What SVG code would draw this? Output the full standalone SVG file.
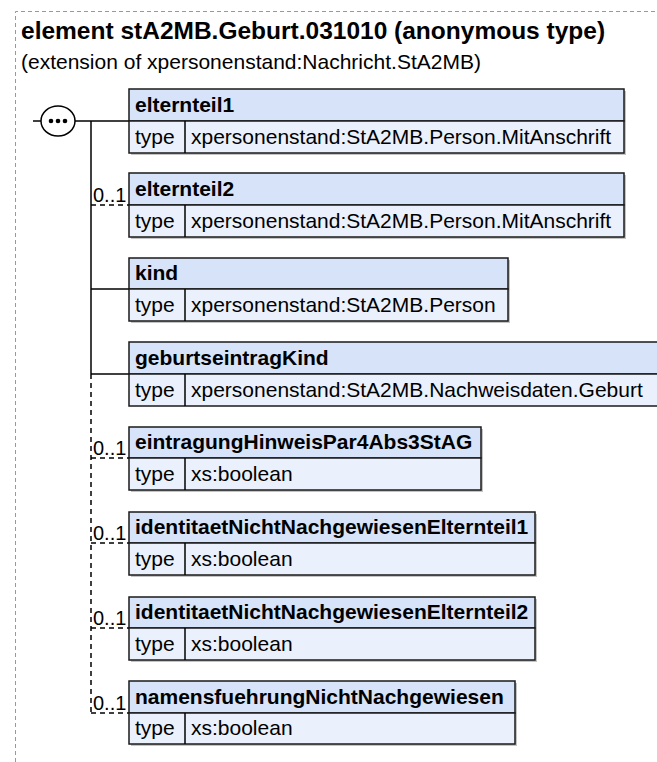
<svg xmlns="http://www.w3.org/2000/svg" width="657" height="762" viewBox="0 0 657 762">
<style>
text{font-family:"Liberation Sans",Arial,sans-serif;fill:#000}
.title{font-size:24.5px;font-weight:bold}
.sub{font-size:21px}
.nm{font-size:21px;font-weight:bold}
.tp{font-size:21px}
.occ{font-size:20px}
.hd{fill:#d6e3f8;stroke:#1a1a1a;stroke-width:1.5}
.tr{fill:#eaf1fc;stroke:#1a1a1a;stroke-width:1.5}
.sh{fill:#c4c4c4}
.ln{stroke:#000;stroke-width:1.5;fill:none}
.dl{stroke:#000;stroke-width:1.5;fill:none;stroke-dasharray:5,4}
</style>
<path d="M15.5,762 V11.5 H657" fill="none" stroke="#999" stroke-width="1" stroke-dasharray="4,3"/>
<text class="title" x="21" y="39">element stA2MB.Geburt.031010 (anonymous type)</text>
<text class="sub" x="21" y="69">(extension of xpersonenstand:Nachricht.StA2MB)</text>
<g id="sequence">
<ellipse cx="58" cy="121" rx="17" ry="15" fill="#fff" stroke="#000" stroke-width="1.5"/>
<circle cx="51" cy="121" r="2.3"/>
<circle cx="58" cy="121" r="2.3"/>
<circle cx="65" cy="121" r="2.3"/>
</g>
<g id="connectors">
<line class="ln" x1="33" y1="121" x2="41" y2="121"/>
<line class="ln" x1="75" y1="121" x2="129" y2="121"/>
<line class="ln" x1="91" y1="121" x2="91" y2="374"/>
<line class="dl" x1="91" y1="374" x2="91" y2="713"/>
<line class="dl" x1="91" y1="205" x2="129" y2="205"/>
<line class="ln" x1="91" y1="289" x2="129" y2="289"/>
<line class="ln" x1="91" y1="374" x2="129" y2="374"/>
<line class="dl" x1="91" y1="458" x2="129" y2="458"/>
<line class="dl" x1="91" y1="543" x2="129" y2="543"/>
<line class="dl" x1="91" y1="628" x2="129" y2="628"/>
<line class="dl" x1="91" y1="713" x2="129" y2="713"/>
</g>
<g id="elternteil1">
<rect class="sh" x="131" y="91" width="495" height="64"/>
<rect class="hd" x="129" y="89" width="495" height="32"/>
<rect class="tr" x="129" y="121" width="495" height="32"/>
<line class="ln" x1="185" y1="121" x2="185" y2="153"/>
<text class="nm" x="135" y="112">elternteil1</text>
<text class="tp" x="135" y="144">type</text>
<text class="tp" x="191" y="144">xpersonenstand:StA2MB.Person.MitAnschrift</text>
</g>
<g id="elternteil2">
<text class="occ" x="93" y="202">0..1</text>
<rect class="sh" x="131" y="175" width="495" height="64"/>
<rect class="hd" x="129" y="173" width="495" height="32"/>
<rect class="tr" x="129" y="205" width="495" height="32"/>
<line class="ln" x1="185" y1="205" x2="185" y2="237"/>
<text class="nm" x="135" y="196">elternteil2</text>
<text class="tp" x="135" y="228">type</text>
<text class="tp" x="191" y="228">xpersonenstand:StA2MB.Person.MitAnschrift</text>
</g>
<g id="kind">
<rect class="sh" x="131" y="260" width="379" height="63"/>
<rect class="hd" x="129" y="258" width="379" height="31"/>
<rect class="tr" x="129" y="289" width="379" height="32"/>
<line class="ln" x1="185" y1="289" x2="185" y2="321"/>
<text class="nm" x="135" y="280">kind</text>
<text class="tp" x="135" y="312">type</text>
<text class="tp" x="191" y="312">xpersonenstand:StA2MB.Person</text>
</g>
<g id="geburtseintragKind">
<rect class="hd" x="129" y="342" width="530" height="32"/>
<rect class="tr" x="129" y="374" width="530" height="32"/>
<line class="ln" x1="185" y1="374" x2="185" y2="406"/>
<text class="nm" x="135" y="365">geburtseintragKind</text>
<text class="tp" x="135" y="397">type</text>
<text class="tp" x="191" y="397">xpersonenstand:StA2MB.Nachweisdaten.Geburt</text>
</g>
<g id="eintragungHinweisPar4Abs3StAG">
<text class="occ" x="93" y="455">0..1</text>
<rect class="sh" x="131" y="429" width="352" height="63"/>
<rect class="hd" x="129" y="427" width="352" height="31"/>
<rect class="tr" x="129" y="458" width="352" height="32"/>
<line class="ln" x1="185" y1="458" x2="185" y2="490"/>
<text class="nm" x="135" y="449">eintragungHinweisPar4Abs3StAG</text>
<text class="tp" x="135" y="481">type</text>
<text class="tp" x="191" y="481">xs:boolean</text>
</g>
<g id="identitaetNichtNachgewiesenElternteil1">
<text class="occ" x="93" y="540">0..1</text>
<rect class="sh" x="131" y="514" width="406" height="63"/>
<rect class="hd" x="129" y="512" width="406" height="31"/>
<rect class="tr" x="129" y="543" width="406" height="32"/>
<line class="ln" x1="185" y1="543" x2="185" y2="575"/>
<text class="nm" x="135" y="534">identitaetNichtNachgewiesenElternteil1</text>
<text class="tp" x="135" y="566">type</text>
<text class="tp" x="191" y="566">xs:boolean</text>
</g>
<g id="identitaetNichtNachgewiesenElternteil2">
<text class="occ" x="93" y="625">0..1</text>
<rect class="sh" x="131" y="599" width="406" height="63"/>
<rect class="hd" x="129" y="597" width="406" height="31"/>
<rect class="tr" x="129" y="628" width="406" height="32"/>
<line class="ln" x1="185" y1="628" x2="185" y2="660"/>
<text class="nm" x="135" y="619">identitaetNichtNachgewiesenElternteil2</text>
<text class="tp" x="135" y="651">type</text>
<text class="tp" x="191" y="651">xs:boolean</text>
</g>
<g id="namensfuehrungNichtNachgewiesen">
<text class="occ" x="93" y="710">0..1</text>
<rect class="sh" x="131" y="683" width="386" height="63"/>
<rect class="hd" x="129" y="681" width="386" height="32"/>
<rect class="tr" x="129" y="713" width="386" height="31"/>
<line class="ln" x1="185" y1="713" x2="185" y2="744"/>
<text class="nm" x="135" y="704">namensfuehrungNichtNachgewiesen</text>
<text class="tp" x="135" y="735">type</text>
<text class="tp" x="191" y="735">xs:boolean</text>
</g>
</svg>
